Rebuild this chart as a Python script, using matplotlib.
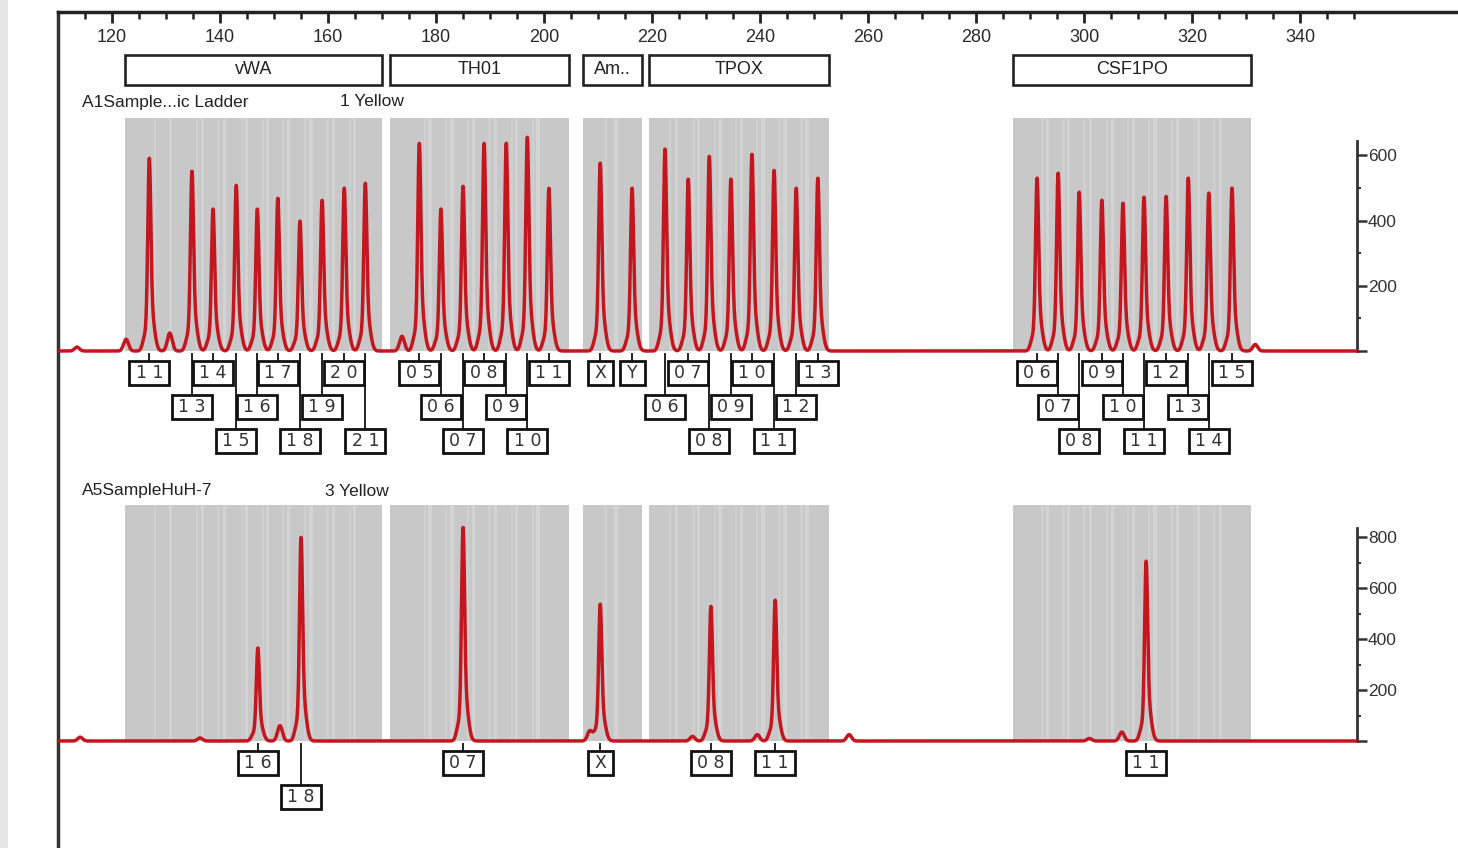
import numpy as np
import matplotlib
matplotlib.use("Agg")
import matplotlib.pyplot as plt
from matplotlib.patches import Rectangle
from matplotlib.lines import Line2D
from matplotlib.transforms import blended_transform_factory

# loci shown on the ruler (bp ranges of the bins)
loci = ["vWA", "TH01", "Am..", "TPOX", "CSF1PO"]
locus_lo = [122.4, 171.5, 207.2, 219.4, 286.8]
locus_hi = [170.0, 204.6, 218.2, 252.8, 331.0]

# top panel: allelic ladder
ladder_alleles = ["11", "13", "14", "15", "16", "17", "18", "19", "20", "21",
                  "05", "06", "07", "08", "09", "10", "11",
                  "X", "Y",
                  "06", "07", "08", "09", "10", "11", "12", "13",
                  "06", "07", "08", "09", "10", "11", "12", "13", "14", "15"]
ladder_size = [126.9, 134.8, 138.7, 143.0, 146.9, 150.7, 154.8, 158.9, 163.0, 166.9,
               176.9, 180.9, 185.0, 188.9, 193.0, 196.9, 200.9,
               210.4, 216.3,
               222.4, 226.7, 230.6, 234.6, 238.5, 242.6, 246.7, 250.7,
               291.3, 295.2, 299.1, 303.3, 307.2, 311.1, 315.2, 319.3, 323.1, 327.4]
ladder_height = [592, 552, 436, 509, 436, 469, 399, 463, 500, 515,
                 638, 436, 506, 638, 638, 656, 500,
                 577, 500,
                 620, 528, 598, 528, 604, 555, 500, 531,
                 531, 546, 488, 463, 454, 472, 475, 531, 485, 500]
ladder_minor_size = [113.5, 122.6, 130.7, 173.7, 331.7]
ladder_minor_height = [12, 36, 55, 45, 20]

# bottom panel: HuH-7 sample
sample_alleles = ["16", "18", "07", "X", "08", "11", "11"]
sample_size = [147.0, 155.0, 185.0, 210.4, 230.9, 242.8, 311.5]
sample_height = [365, 800, 839, 537, 529, 553, 706]
sample_minor_size = [114.1, 136.3, 151.1, 208.5, 227.5, 239.5, 256.5, 301.0, 307.0]
sample_minor_height = [15, 12, 60, 40, 18, 25, 25, 10, 35]

W, H = 1458, 848
PX_PER_BP = 5.4
RED = "#c3161f"
plt.rcParams["font.family"] = ["Liberation Sans", "DejaVu Sans"]

fig = plt.figure(figsize=(W / 100, H / 100), dpi=100)


def bp_at(px):
    return 110 + (px - 58) / PX_PER_BP


def fy(px):
    return 1 - px / H


def px_axes(left, top, right, bottom):
    return fig.add_axes([left / W, 1 - bottom / H, (right - left) / W, (bottom - top) / H])


def trace(x, sizes, heights, minor_sizes, minor_heights):
    y = np.zeros_like(x)
    for s, h in zip(sizes, heights):
        y += h * (0.8 * np.exp(-0.5 * ((x - s) / 0.27) ** 2)
                  + 0.22 * np.exp(-0.5 * ((x - s - 0.3) / 0.6) ** 2)
                  + 0.05 * np.exp(-0.5 * ((x - s + 0.9) / 0.4) ** 2))
    for s, h in zip(minor_sizes, minor_heights):
        y += h * np.exp(-0.5 * ((x - s) / 0.45) ** 2)
    return y


# scan edge on the left
fig.patches.append(Rectangle((0, 0), 8 / W, 1, transform=fig.transFigure,
                             fc="#e6e6e6", ec="none"))

# ruler frame
ax_r = px_axes(58, 12, W, H)
ax_r.set_xlim(bp_at(58), bp_at(W))
ax_r.set_ylim(0, 1)
ax_r.patch.set_visible(False)
for side in ["right", "bottom"]:
    ax_r.spines[side].set_visible(False)
ax_r.spines["top"].set_linewidth(2.5)
ax_r.spines["left"].set_linewidth(2.5)
ax_r.spines["top"].set_color("#222222")
ax_r.spines["left"].set_color("#333333")
ax_r.set_yticks([])
ax_r.xaxis.tick_top()
ax_r.set_xticks(np.arange(120, 341, 20))
ax_r.set_xticks(np.arange(115, 351, 5), minor=True)
ax_r.tick_params(axis="x", which="major", direction="in", length=8, width=2,
                 color="#222222", labeltop=False)
ax_r.tick_params(axis="x", which="minor", direction="in", length=5, width=1.8,
                 color="#222222")
rt = blended_transform_factory(ax_r.transData, fig.transFigure)
for v in range(120, 341, 20):
    ax_r.text(v, fy(37), str(v), transform=rt, ha="center", va="center",
              fontsize=13, color="#2a2a2a")

for name, lo, hi in zip(loci, locus_lo, locus_hi):
    ax_r.add_patch(Rectangle((lo, fy(85)), hi - lo, 30 / H, transform=rt,
                             fc="white", ec="#222222", lw=1.9))
    ax_r.text((lo + hi) / 2, fy(70), name, transform=rt, ha="center", va="center",
              fontsize=13, color="#222222")

ROW_OFF = [22, 56, 90]


def make_panel(top_px, bot_px, y0_px, ppu, grey_top, ymax, major):
    ax = px_axes(58, top_px, 1357, bot_px)
    ax.set_xlim(bp_at(58), bp_at(1357))
    ax.set_ylim((y0_px - bot_px) / ppu, (y0_px - top_px) / ppu)
    ax.patch.set_visible(False)
    for side in ["left", "top", "bottom"]:
        ax.spines[side].set_visible(False)
    ax.spines["right"].set_bounds(0, ymax)
    ax.spines["right"].set_linewidth(2)
    ax.spines["right"].set_color("#333333")
    ax.yaxis.tick_right()
    ax.set_yticks(major)
    ax.set_yticklabels([""] + [str(v) for v in major[1:]])
    ax.set_yticks(np.arange(100, ymax, 200), minor=True)
    ax.tick_params(axis="y", which="major", direction="out", length=7, width=1.8,
                   color="#333333", labelsize=12.5, labelcolor="#333333", pad=1)
    ax.tick_params(axis="y", which="minor", direction="out", length=3, width=1.5,
                   color="#333333")
    ax.set_xticks([])
    # grey allele bins with soft stripes between ladder alleles
    for lo, hi in zip(locus_lo, locus_hi):
        ax.add_patch(Rectangle((lo, 0), hi - lo, grey_top, fc="#c8c8c8", ec="none", zorder=1))
        inside = sorted(s for s in ladder_size if lo <= s <= hi)
        for a, b in zip(inside[:-1], inside[1:]):
            ax.add_patch(Rectangle(((a + b) / 2 - 0.3, 0), 0.6, grey_top,
                                   fc="#d3d3d3", ec="none", zorder=1.1))
            ax.add_patch(Rectangle((a + 0.8, 0), 0.4, grey_top,
                                   fc="#cfcfcf", ec="none", zorder=1.1))
    return ax


def draw_trace(ax, sizes, heights, msizes, mheights):
    x = np.arange(bp_at(58), bp_at(1357), 0.03)
    ax.plot(x, trace(x, sizes, heights, msizes, mheights), color=RED, lw=2.5,
            zorder=3, solid_joinstyle="round")


def draw_labels(ax, sizes, labels, rows, y0_px):
    tr = blended_transform_factory(ax.transData, fig.transFigure)
    for s, lab, r in zip(sizes, labels, rows):
        cy = y0_px + ROW_OFF[r]
        wbp = (10 + 15 * len(lab)) / PX_PER_BP
        z = 10 - r
        ax.add_line(Line2D([s, s], [fy(y0_px + 3), fy(cy - 12)], transform=tr,
                           color="#222222", lw=1.4, zorder=z, clip_on=False))
        ax.add_patch(Rectangle((s - wbp / 2, fy(cy + 12)), wbp, 24 / H, transform=tr,
                               fc="white", ec="#111111", lw=2.0, zorder=z, clip_on=False))
        ax.text(s, fy(cy), " ".join(lab), transform=tr, ha="center", va="center",
                fontsize=12.5, family="DejaVu Sans", color="#333333",
                zorder=z + 0.5, clip_on=False)


# top panel
ax1 = make_panel(100, 470, 351, 0.326, 715, 643, [0, 200, 400, 600])
draw_trace(ax1, ladder_size, ladder_height, ladder_minor_size, ladder_minor_height)
ladder_rows = [0, 1, 0, 2, 1, 0, 2, 1, 0, 2,
               0, 1, 2, 0, 1, 2, 0,
               0, 0,
               1, 0, 2, 1, 0, 2, 1, 0,
               0, 1, 2, 0, 1, 2, 0, 1, 2, 0]
draw_labels(ax1, ladder_size, ladder_alleles, ladder_rows, 351)
fig.text(82 / W, fy(102), "A1Sample...ic Ladder", ha="left", va="center",
         fontsize=12.5, color="#222222")
fig.text(340 / W, fy(102), "1 Yellow", ha="left", va="center",
         fontsize=12.5, color="#222222")

# bottom panel
ax2 = make_panel(480, 848, 741, 0.255, 925, 835, [0, 200, 400, 600, 800])
draw_trace(ax2, sample_size, sample_height, sample_minor_size, sample_minor_height)
draw_labels(ax2, sample_size, sample_alleles, [0, 1, 0, 0, 0, 0, 0], 741)
fig.text(82 / W, fy(491), "A5SampleHuH-7", ha="left", va="center",
         fontsize=12.5, color="#222222")
fig.text(325 / W, fy(491), "3 Yellow", ha="left", va="center",
         fontsize=12.5, color="#222222")

fig.savefig("out.png", dpi=100)
